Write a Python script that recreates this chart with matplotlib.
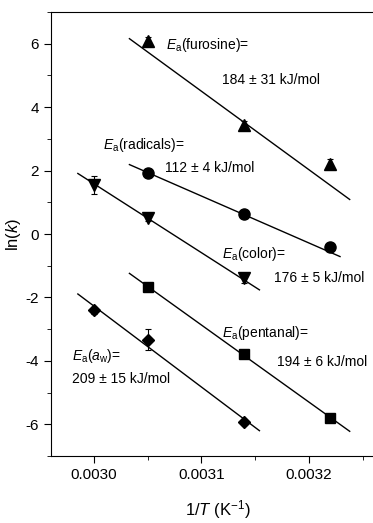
import matplotlib
matplotlib.use("Agg")
import matplotlib.pyplot as plt
from matplotlib.ticker import MultipleLocator

plt.rcParams['font.family'] = ['Liberation Sans', 'DejaVu Sans']
plt.rcParams['mathtext.fontset'] = 'custom'
plt.rcParams['mathtext.rm'] = 'Liberation Sans'
plt.rcParams['mathtext.it'] = 'Liberation Sans:italic'
plt.rcParams['axes.unicode_minus'] = False

# measured points (1/T, ln k) and error bars
x_fur = [0.00305, 0.00314, 0.00322]
y_fur = [6.09, 3.43, 2.22]
e_fur = [0.12, 0.12, 0.15]

x_rad = [0.00305, 0.00314, 0.00322]
y_rad = [1.94, 0.62, -0.42]
e_rad = [0.12, 0.05, 0.05]

x_col = [0.00300, 0.00305, 0.00314]
y_col = [1.54, 0.50, -1.38]
e_col = [0.28, 0.08, 0.15]

x_pen = [0.00305, 0.00314, 0.00322]
y_pen = [-1.68, -3.78, -5.80]
e_pen = [0.05, 0.05, 0.05]

x_aw = [0.00300, 0.00305, 0.00314]
y_aw = [-2.41, -3.33, -5.93]
e_aw = [0.12, 0.34, 0.08]

# fitted lines (end points)
fit_fur_x = [0.003033, 0.003238]
fit_fur_y = [6.16, 1.09]
fit_rad_x = [0.003033, 0.003229]
fit_rad_y = [2.19, -0.71]
fit_col_x = [0.002985, 0.003154]
fit_col_y = [1.91, -1.76]
fit_pen_x = [0.003033, 0.003238]
fit_pen_y = [-1.24, -6.22]
fit_aw_x = [0.002985, 0.003154]
fit_aw_y = [-1.89, -6.20]

fig = plt.figure(figsize=(3.73, 5.23), dpi=100)
ax = fig.add_axes([0.1367, 0.128, 0.893, 0.849])

for fx, fy in [(fit_fur_x, fit_fur_y), (fit_rad_x, fit_rad_y), (fit_col_x, fit_col_y),
               (fit_pen_x, fit_pen_y), (fit_aw_x, fit_aw_y)]:
    ax.plot(fx, fy, color='black', lw=1.0)

for xs, ys, es, m, ms in [(x_fur, y_fur, e_fur, '^', 8.5), (x_rad, y_rad, e_rad, 'o', 8),
                          (x_col, y_col, e_col, 'v', 8.5), (x_pen, y_pen, e_pen, 's', 6.5),
                          (x_aw, y_aw, e_aw, 'D', 6.5)]:
    ax.errorbar(xs, ys, yerr=es, fmt=m, color='black', ms=ms, capsize=2.5,
                elinewidth=0.8, capthick=0.8)

fs = 10
ax.text(0.003067, 5.95, r'$E_{\mathrm{a}}$(furosine)=', fontsize=fs, va='center')
ax.text(0.003119, 4.85, '184 ± 31 kJ/mol', fontsize=fs, va='center')
ax.text(0.003008, 2.80, r'$E_{\mathrm{a}}$(radicals)=', fontsize=fs, va='center')
ax.text(0.003066, 2.07, '112 ± 4 kJ/mol', fontsize=fs, va='center')
ax.text(0.003119, -0.62, r'$E_{\mathrm{a}}$(color)=', fontsize=fs, va='center')
ax.text(0.003168, -1.39, '176 ± 5 kJ/mol', fontsize=fs, va='center')
ax.text(0.003119, -3.12, r'$E_{\mathrm{a}}$(pentanal)=', fontsize=fs, va='center')
ax.text(0.003170, -4.02, '194 ± 6 kJ/mol', fontsize=fs, va='center')
ax.text(0.002980, -3.86, r'$E_{\mathrm{a}}$($a_{\mathrm{w}}$)=', fontsize=fs, va='center')
ax.text(0.002980, -4.57, '209 ± 15 kJ/mol', fontsize=fs, va='center')

ax.set_xlim(0.00296, 0.00327)
ax.set_ylim(-7, 7)
ax.xaxis.set_major_locator(MultipleLocator(0.0001))
ax.xaxis.set_minor_locator(MultipleLocator(0.00005))
ax.yaxis.set_major_locator(MultipleLocator(2))
ax.yaxis.set_minor_locator(MultipleLocator(1))
ax.xaxis.set_major_formatter(plt.FormatStrFormatter('%.4f'))
ax.tick_params(which='both', direction='out', labelsize=11)
ax.tick_params(which='major', length=5)
ax.tick_params(which='minor', length=3)
ax.set_xlabel(r'1/$T$ (K$^{-1}$)', fontsize=12, labelpad=12)
ax.set_ylabel(r'ln($k$)', fontsize=12, labelpad=2)

fig.savefig('out.png', dpi=100)
